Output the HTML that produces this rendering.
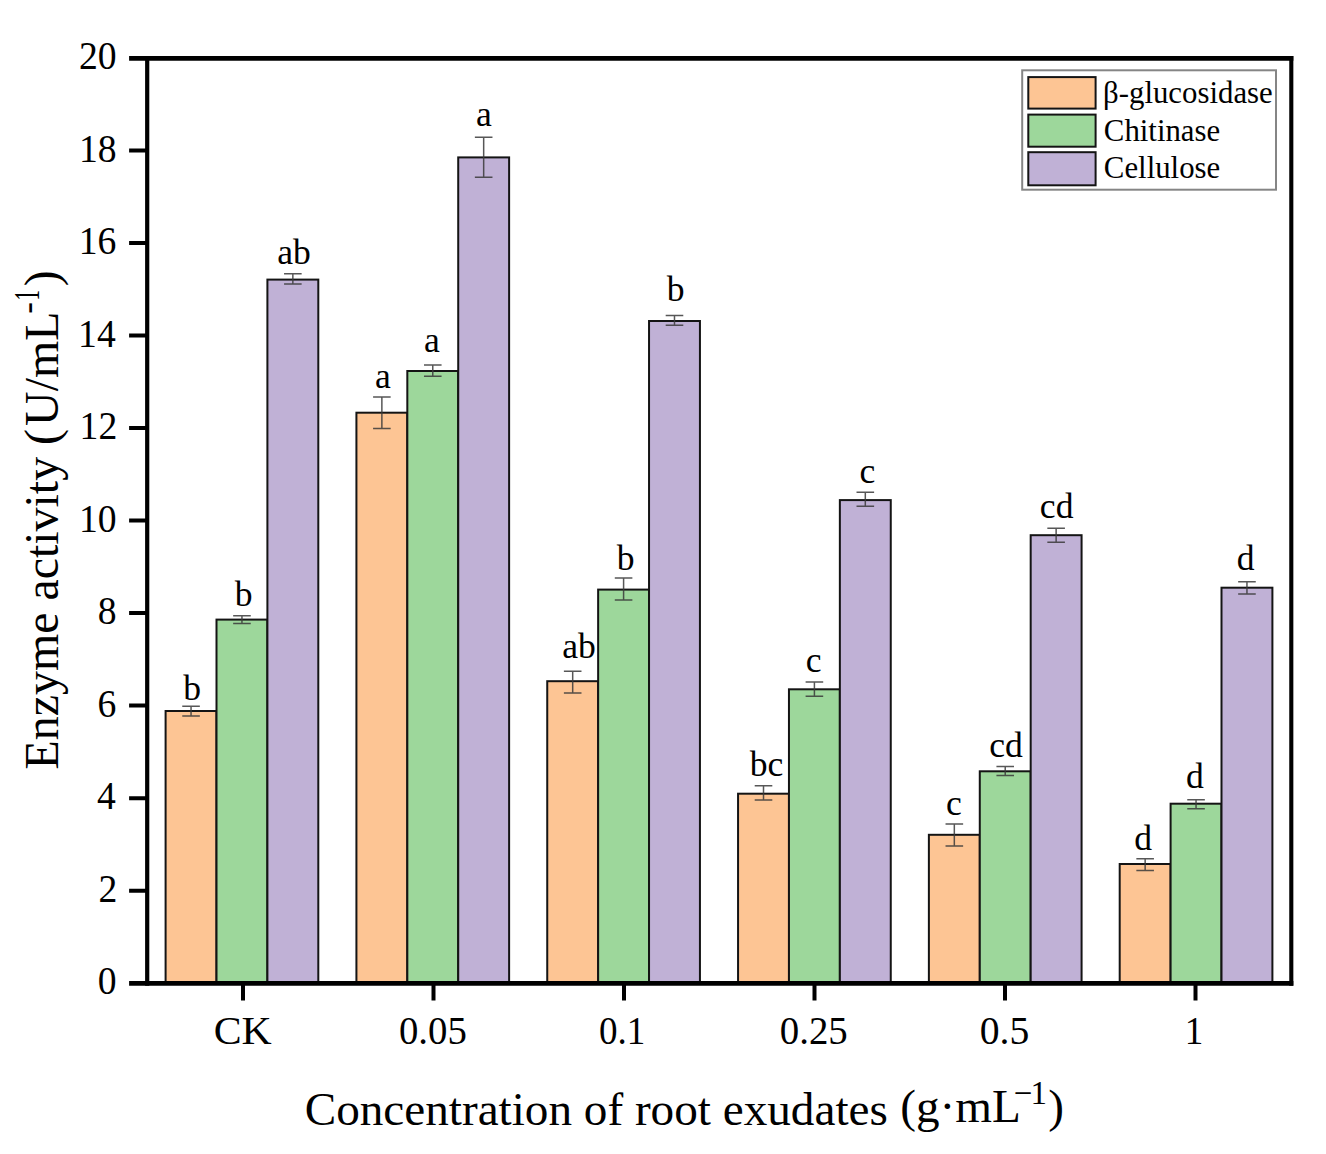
<!DOCTYPE html><html><head><meta charset="utf-8"><style>html,body{margin:0;padding:0;background:#fff;width:1326px;height:1154px;overflow:hidden}svg{display:block}text{font-family:"Liberation Serif",serif;fill:#000}</style></head><body>
<svg width="1326" height="1154" viewBox="0 0 1326 1154">
<rect x="0" y="0" width="1326" height="1154" fill="#fff"/>
<rect x="165.6" y="711" width="50.9" height="272.3" fill="#fdc594" stroke="#141414" stroke-width="2"/>
<rect x="216.5" y="619.6" width="50.9" height="363.7" fill="#9dd79b" stroke="#141414" stroke-width="2"/>
<rect x="267.4" y="279.6" width="50.9" height="703.7" fill="#c0b1d6" stroke="#141414" stroke-width="2"/>
<rect x="356.42" y="412.7" width="50.9" height="570.6" fill="#fdc594" stroke="#141414" stroke-width="2"/>
<rect x="407.32" y="371" width="50.9" height="612.3" fill="#9dd79b" stroke="#141414" stroke-width="2"/>
<rect x="458.22" y="157.4" width="50.9" height="825.9" fill="#c0b1d6" stroke="#141414" stroke-width="2"/>
<rect x="547.24" y="681.2" width="50.9" height="302.1" fill="#fdc594" stroke="#141414" stroke-width="2"/>
<rect x="598.14" y="589.6" width="50.9" height="393.7" fill="#9dd79b" stroke="#141414" stroke-width="2"/>
<rect x="649.04" y="321" width="50.9" height="662.3" fill="#c0b1d6" stroke="#141414" stroke-width="2"/>
<rect x="738.06" y="793.7" width="50.9" height="189.6" fill="#fdc594" stroke="#141414" stroke-width="2"/>
<rect x="788.96" y="689.3" width="50.9" height="294" fill="#9dd79b" stroke="#141414" stroke-width="2"/>
<rect x="839.86" y="500.1" width="50.9" height="483.2" fill="#c0b1d6" stroke="#141414" stroke-width="2"/>
<rect x="928.88" y="834.8" width="50.9" height="148.5" fill="#fdc594" stroke="#141414" stroke-width="2"/>
<rect x="979.78" y="771.3" width="50.9" height="212" fill="#9dd79b" stroke="#141414" stroke-width="2"/>
<rect x="1030.68" y="535.2" width="50.9" height="448.1" fill="#c0b1d6" stroke="#141414" stroke-width="2"/>
<rect x="1119.7" y="864" width="50.9" height="119.3" fill="#fdc594" stroke="#141414" stroke-width="2"/>
<rect x="1170.6" y="803.7" width="50.9" height="179.6" fill="#9dd79b" stroke="#141414" stroke-width="2"/>
<rect x="1221.5" y="587.7" width="50.9" height="395.6" fill="#c0b1d6" stroke="#141414" stroke-width="2"/>
<path d="M182.25 706.2H199.85M182.25 715.9H199.85M191.05 706.2V715.9M233.15 615.8H250.75M233.15 623.6H250.75M241.95 615.8V623.6M284.05 273.7H301.65M284.05 284.1H301.65M292.85 273.7V284.1M373.07 396.9H390.67M373.07 428.5H390.67M381.87 396.9V428.5M423.97 365H441.57M423.97 376.2H441.57M432.77 365V376.2M474.87 137.2H492.47M474.87 177.3H492.47M483.67 137.2V177.3M563.89 671.3H581.49M563.89 692.9H581.49M572.69 671.3V692.9M614.79 577.9H632.39M614.79 600H632.39M623.59 577.9V600M665.69 315.4H683.29M665.69 325.2H683.29M674.49 315.4V325.2M754.71 785.8H772.31M754.71 799.9H772.31M763.51 785.8V799.9M805.61 682H823.21M805.61 696.3H823.21M814.41 682V696.3M856.51 492.3H874.11M856.51 506.3H874.11M865.31 492.3V506.3M945.53 824.1H963.13M945.53 846.1H963.13M954.33 824.1V846.1M996.43 766.5H1014.03M996.43 775.5H1014.03M1005.23 766.5V775.5M1047.33 528.2H1064.93M1047.33 542.2H1064.93M1056.13 528.2V542.2M1136.35 858.7H1153.95M1136.35 870.5H1153.95M1145.15 858.7V870.5M1187.25 799.8H1204.85M1187.25 808.8H1204.85M1196.05 799.8V808.8M1238.15 581.8H1255.75M1238.15 593.9H1255.75M1246.95 581.8V593.9" stroke="#3a3a3a" stroke-width="1.5" fill="none" opacity="0.85"/>
<text x="183.16" y="699.6" font-size="35.6">b</text>
<text x="234.66" y="606.4" font-size="35.6">b</text>
<text x="277.27" y="263.7" font-size="35.6">ab</text>
<text x="375.07" y="387.8" font-size="35.6">a</text>
<text x="423.92" y="351.6" font-size="35.6">a</text>
<text x="476.02" y="125.7" font-size="35.6">a</text>
<text x="562.27" y="658.1" font-size="35.6">ab</text>
<text x="616.81" y="570" font-size="35.6">b</text>
<text x="666.81" y="301.4" font-size="35.6">b</text>
<text x="749.71" y="775.9" font-size="35.6">bc</text>
<text x="805.8" y="672.3" font-size="35.6">c</text>
<text x="859.5" y="483.1" font-size="35.6">c</text>
<text x="946.1" y="814.7" font-size="35.6">c</text>
<text x="989.25" y="756.5" font-size="35.6">cd</text>
<text x="1039.85" y="518" font-size="35.6">cd</text>
<text x="1134.25" y="850.1" font-size="35.6">d</text>
<text x="1185.95" y="788.4" font-size="35.6">d</text>
<text x="1236.75" y="570.4" font-size="35.6">d</text>
<path d="M147.2 56.1V985.7" stroke="#000" stroke-width="4.2"/>
<path d="M1291.3 56.1V985.7" stroke="#000" stroke-width="4.1"/>
<path d="M129.1 58.4H1293.35" stroke="#000" stroke-width="4.6"/>
<path d="M129.1 983.3H1293.35" stroke="#000" stroke-width="4.8"/>
<text transform="translate(97.87 994.3) scale(0.93 1)" font-size="40.5">0</text>
<text transform="translate(98.44 901.77) scale(0.93 1)" font-size="40.5">2</text>
<text transform="translate(96.93 809.24) scale(0.93 1)" font-size="40.5">4</text>
<text transform="translate(97.5 716.71) scale(0.93 1)" font-size="40.5">6</text>
<text transform="translate(97.87 624.18) scale(0.93 1)" font-size="40.5">8</text>
<text transform="translate(79.04 531.65) scale(0.93 1)" font-size="40.5">10</text>
<text transform="translate(79.61 439.12) scale(0.93 1)" font-size="40.5">12</text>
<text transform="translate(78.1 346.59) scale(0.93 1)" font-size="40.5">14</text>
<text transform="translate(78.66 254.06) scale(0.93 1)" font-size="40.5">16</text>
<text transform="translate(79.04 161.53) scale(0.93 1)" font-size="40.5">18</text>
<text transform="translate(79.04 69) scale(0.93 1)" font-size="40.5">20</text>
<path d="M129.1 890.67H147.2M129.1 798.14H147.2M129.1 705.61H147.2M129.1 613.08H147.2M129.1 520.55H147.2M129.1 428.02H147.2M129.1 335.49H147.2M129.1 242.96H147.2M129.1 150.43H147.2" stroke="#000" stroke-width="4"/>
<text transform="translate(213.63 1043.5) scale(1.0195 1)" font-size="41">CK</text>
<text transform="translate(398.95 1043.5) scale(0.9464 1)" font-size="41">0.05</text>
<text transform="translate(598.92 1043.5) scale(0.9035 1)" font-size="41">0.1</text>
<text transform="translate(779.75 1043.5) scale(0.9479 1)" font-size="41">0.25</text>
<text transform="translate(979.71 1043.5) scale(0.9673 1)" font-size="41">0.5</text>
<text transform="translate(1184.86 1043.5) scale(0.9059 1)" font-size="41">1</text>
<path d="M243 983.3V1000.6M433.5 983.3V1000.6M624 983.3V1000.6M814.5 983.3V1000.6M1005 983.3V1000.6M1195.5 983.3V1000.6" stroke="#000" stroke-width="4"/>
<rect x="1022.2" y="70.3" width="253.8" height="119.4" fill="#fff" stroke="#858585" stroke-width="2"/>
<rect x="1028.3" y="77.1" width="67.3" height="31.5" fill="#fdc594" stroke="#141414" stroke-width="2"/>
<text x="1103.1" y="103.3" font-size="30.8">β-glucosidase</text>
<rect x="1028.3" y="114.6" width="67.3" height="32.1" fill="#9dd79b" stroke="#141414" stroke-width="2"/>
<text x="1103.87" y="140.9" font-size="30.8">Chitinase</text>
<rect x="1028.3" y="152.2" width="67.3" height="33.1" fill="#c0b1d6" stroke="#141414" stroke-width="2"/>
<text x="1103.87" y="178.3" font-size="30.8">Cellulose</text>
<text x="304.7" y="1125" font-size="47.2">Concentration of root exudates</text>
<text x="900.2" y="1122" font-size="47.2">(g·mL</text>
<text x="1013.85" y="1103.8" font-size="33">−</text>
<text x="1030.4" y="1103.8" font-size="33">1</text>
<text x="1048.3" y="1122" font-size="47.2">)</text>
<text transform="translate(57.5 769.4) rotate(-90)" font-size="47.9">Enzyme activity (</text>
<text transform="translate(57.5 425.9) rotate(-90)" font-size="47.9">U/mL</text>
<text transform="translate(38.7 313.83) rotate(-90)" font-size="35">-</text>
<text transform="translate(38.7 300.65) rotate(-90) scale(0.62 1)" font-size="35">1</text>
<text transform="translate(57.5 286.24) rotate(-90)" font-size="47.9">)</text>
</svg></body></html>
